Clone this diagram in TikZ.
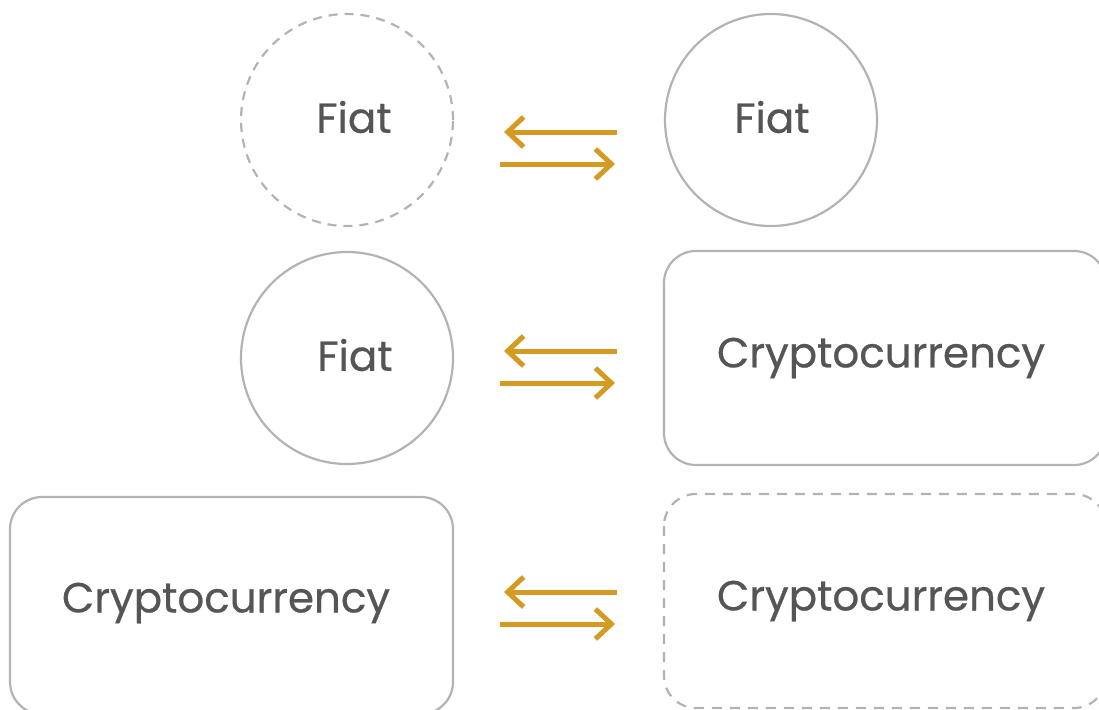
\documentclass[tikz,border=0pt]{standalone}
\usepackage{fontspec}
\setmainfont{Poppins}[FakeBold=0.6]
\usetikzlibrary{arrows.meta}
\definecolor{edge}{HTML}{B3B3B3}
\definecolor{txt}{HTML}{555555}
\definecolor{gold}{HTML}{D39B22}
\begin{document}
\begin{tikzpicture}[x=1pt,y=-1pt,
  lbl/.style={text=txt,font=\fontsize{42}{48}\selectfont},
  circ/.style={circle,draw=edge,line width=2.2pt,minimum size=212pt,inner sep=0pt},
  dcirc/.style={circ,dash pattern=on 9pt off 7pt},
  rbox/.style={draw=edge,line width=2.2pt,rounded corners=32pt},
  drbox/.style={rbox,dash pattern=on 10pt off 8pt},
  xarrow/.style={draw=gold,line width=5pt,-{Straight Barb[length=16pt,width=30pt,line width=5pt]}}]
\useasboundingbox (0,0) rectangle (1099,709);
% shapes
\node[dcirc] (c1) at (347,120) {};
\node[circ] (c2) at (771,120) {};
\node[circ] (c3) at (347,358) {};
\draw[rbox] (664,251) rectangle (1106,465);
\draw[rbox] (10,497) rectangle (453,714);
\draw[drbox] (664,494) rectangle (1106,708);
% labels
\node[lbl] (t1) at (354,117) {Fiat};
\node[lbl] (t2) at (772,117) {Fiat};
\node[lbl] (t3) at (355,355) {Fiat};
\node[lbl] (t4) at (881,358) {Cryptocurrency};
\node[lbl] (t5) at (226,603) {Cryptocurrency};
\node[lbl] (t6) at (881,601) {Cryptocurrency};
% arrows
\coordinate (a1s) at (617,132); \coordinate (a1e) at (504,132);
\coordinate (b1s) at (500,164); \coordinate (b1e) at (615,164);
\coordinate (a2s) at (617,351); \coordinate (a2e) at (504,351);
\coordinate (b2s) at (500,383); \coordinate (b2e) at (615,383);
\coordinate (a3s) at (617,592); \coordinate (a3e) at (504,592);
\coordinate (b3s) at (500,624); \coordinate (b3e) at (615,624);
\draw[xarrow] (a1s) -- (a1e);
\draw[xarrow] (b1s) -- (b1e);
\draw[xarrow] (a2s) -- (a2e);
\draw[xarrow] (b2s) -- (b2e);
\draw[xarrow] (a3s) -- (a3e);
\draw[xarrow] (b3s) -- (b3e);
\end{tikzpicture}
\end{document}
